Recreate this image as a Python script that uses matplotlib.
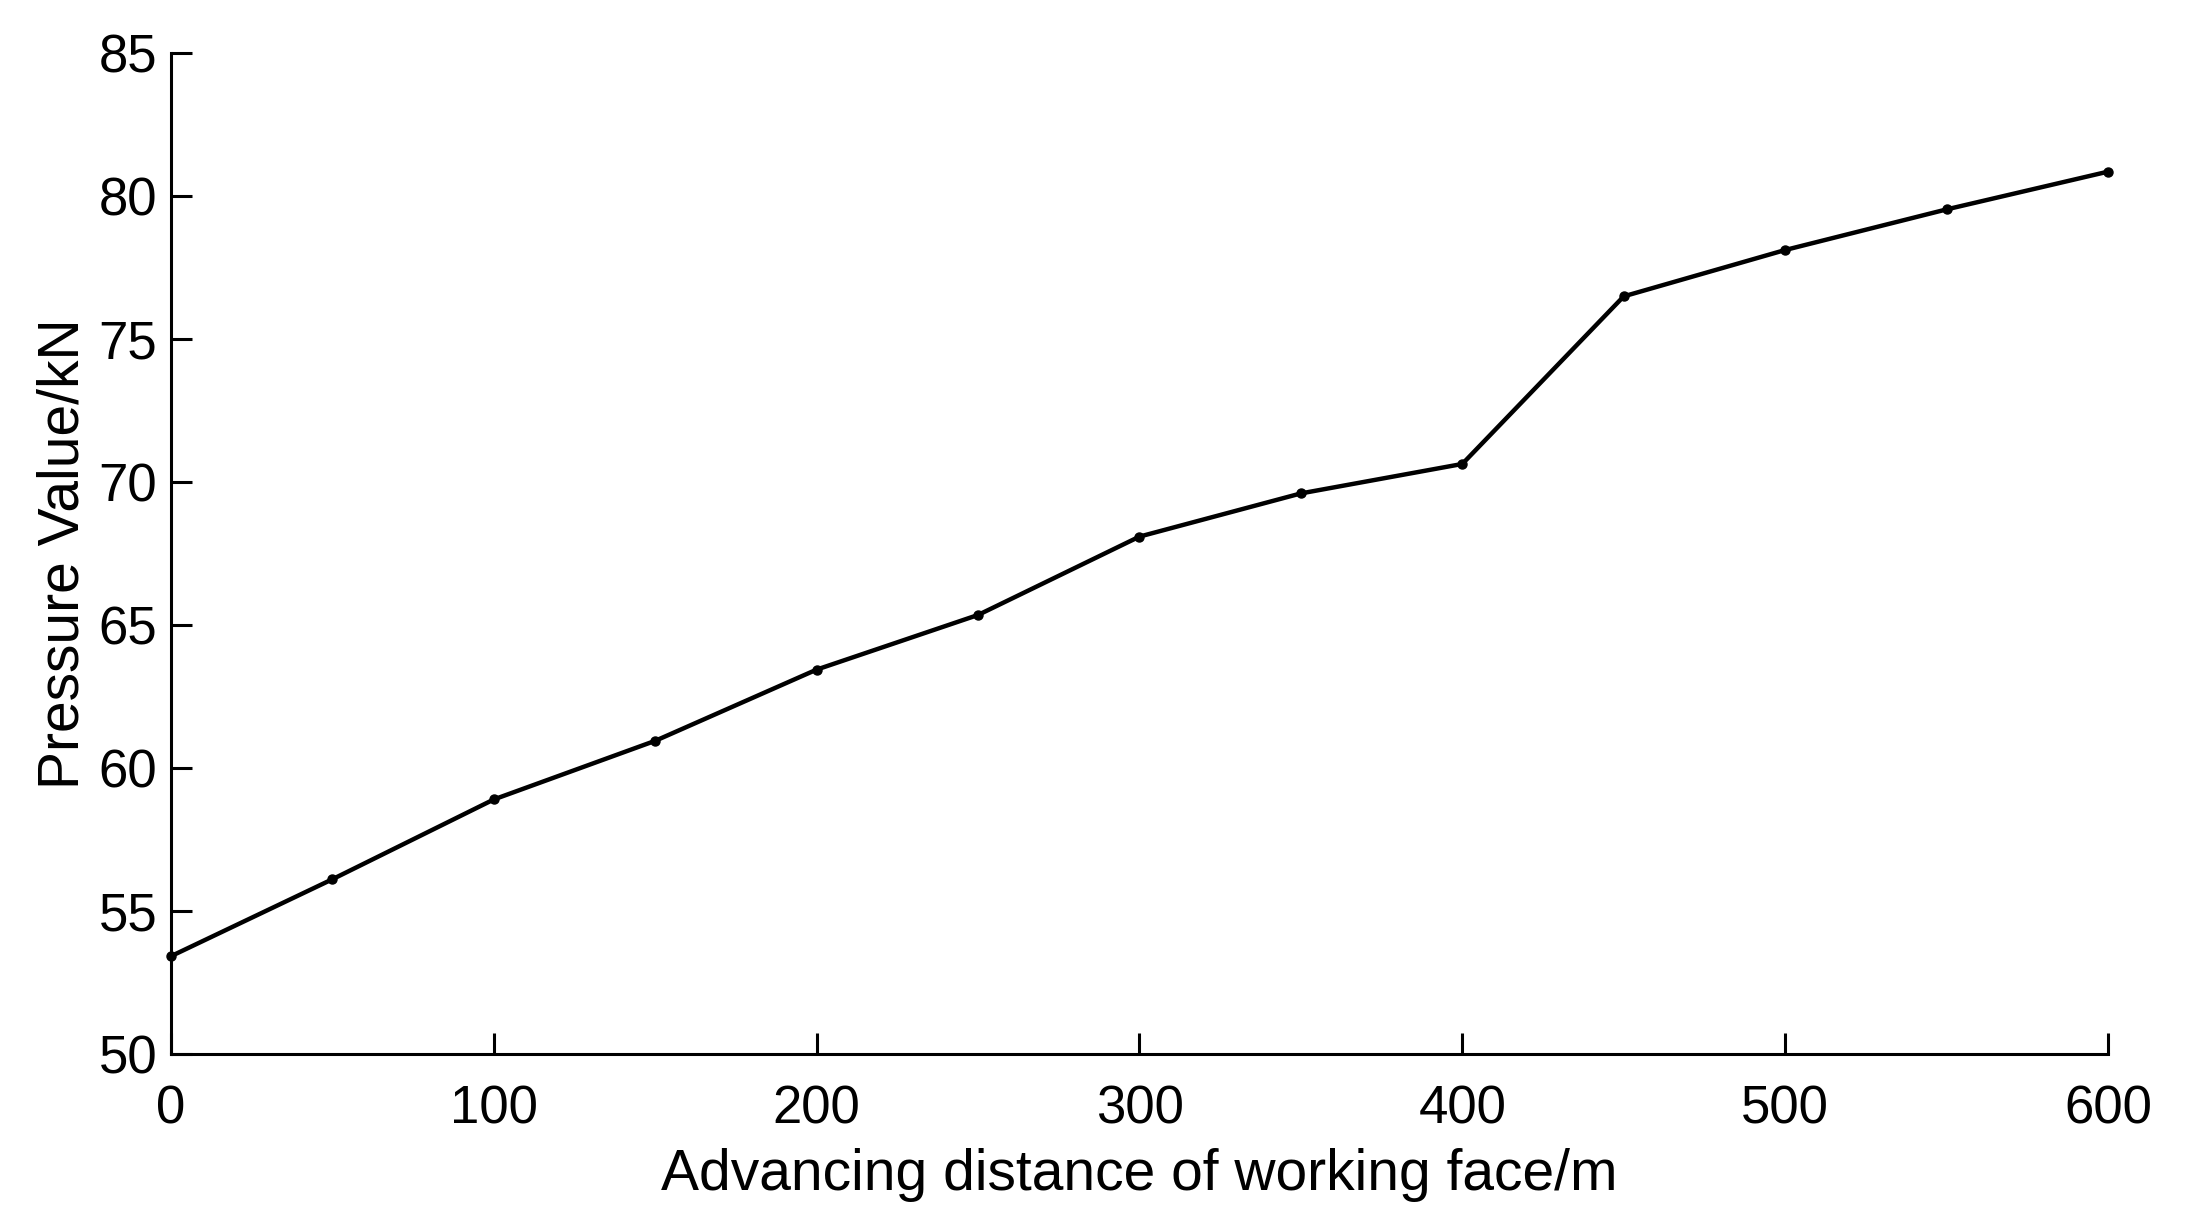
import matplotlib
matplotlib.use("Agg")
import matplotlib.pyplot as plt

plt.rcParams["font.family"] = ["Liberation Sans", "DejaVu Sans"]

# advancing distance (m) and pressure (kN)
distance = [0, 50, 100, 150, 200, 250, 300, 350, 400, 450, 500, 550, 600]
pressure = [53.42, 56.11, 58.90, 60.95, 63.44, 65.35, 68.09, 69.60, 70.63,
            76.49, 78.11, 79.53, 80.85]

x_ticks = [0, 100, 200, 300, 400, 500, 600]
y_ticks = [50, 55, 60, 65, 70, 75, 80, 85]

fig = plt.figure(figsize=(21.93, 12.32), dpi=100)
ax = fig.add_axes([0.078, 0.1445, 0.8832, 0.8125])

ax.plot(distance, pressure, color="black", linewidth=3.2, marker="o",
        markersize=6.5, clip_on=False)

ax.set_xlim(0, 600)
ax.set_ylim(50, 85)
ax.set_xticks(x_ticks)
ax.set_yticks(y_ticks)

ax.spines["top"].set_visible(False)
ax.spines["right"].set_visible(False)
for s in ("left", "bottom"):
    ax.spines[s].set_linewidth(2.2)

ax.tick_params(direction="in", length=15, width=2.2, labelsize=38)
ax.tick_params(axis="x", pad=22)
ax.tick_params(axis="y", pad=10)
ax.set_xlabel("Advancing distance of working face/m", fontsize=41, labelpad=10)
ax.set_ylabel("Pressure Value/kN", fontsize=41, labelpad=6)

fig.savefig("out.png", dpi=100)
